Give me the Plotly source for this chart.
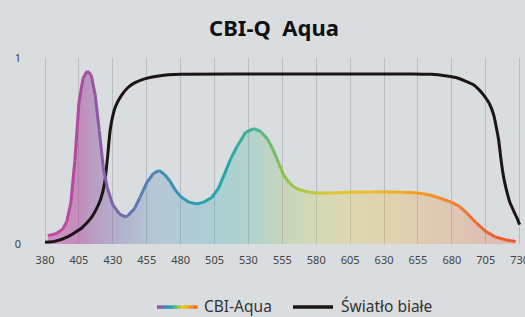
import plotly.graph_objects as go
from plotly.colors import sample_colorscale

# ---------------- data ----------------
aqua_wl = [382, 388, 393, 396, 399, 402, 405, 408, 411, 414, 417, 420, 423, 426, 430,
           435, 440, 446, 450, 455, 460, 464, 468, 472, 476, 480, 486, 492, 497, 503,
           508, 512, 517, 522, 528, 534, 539, 544, 548, 552, 556, 560, 564, 568, 575,
           580, 590, 605, 620, 630, 645, 655, 663, 670, 680, 686, 691, 698, 705, 712,
           720, 727]
aqua_val = [0.045, 0.055, 0.08, 0.12, 0.22, 0.45, 0.76, 0.89, 0.93, 0.91, 0.80, 0.61, 0.41, 0.30, 0.21,
            0.16, 0.145, 0.19, 0.25, 0.33, 0.38, 0.395, 0.375, 0.34, 0.29, 0.255, 0.225, 0.215, 0.225, 0.25,
            0.30, 0.37, 0.46, 0.53, 0.60, 0.62, 0.605, 0.565, 0.51, 0.44, 0.37, 0.33, 0.305, 0.29, 0.278,
            0.274, 0.274, 0.278, 0.28, 0.28, 0.278, 0.274, 0.265, 0.25, 0.224, 0.20, 0.167, 0.113, 0.068, 0.038,
            0.022, 0.014]

white_wl = [380, 387, 397, 407, 414, 418, 421, 424, 426, 428, 430, 432, 436, 441, 446,
            454, 465, 480, 560, 650, 665, 675, 683, 690, 696, 700, 703.5, 708, 711, 713,
            714.5, 716, 717.5, 719, 721, 723, 725.5, 728, 730]
white_val = [0.01, 0.014, 0.04, 0.086, 0.14, 0.19, 0.24, 0.33, 0.46, 0.61, 0.69, 0.74, 0.795, 0.84, 0.866,
             0.889, 0.905, 0.912, 0.914, 0.914, 0.912, 0.905, 0.895, 0.876, 0.856, 0.83, 0.80, 0.75, 0.69, 0.62,
             0.56, 0.47, 0.39, 0.33, 0.27, 0.22, 0.18, 0.14, 0.104]

x_ticks = list(range(380, 731, 25))
y_ticks = [0, 1]

title_text = "CBI-Q  Aqua"
name_aqua = "CBI-Aqua"
name_white = "Światło białe"

# ---------------- style ----------------
WL_MIN, WL_MAX = 380, 730
spectrum = [
    (380, "#c8479f"), (405, "#b04a9e"), (420, "#8c5aa4"), (440, "#6a6fae"),
    (462, "#4a85b2"), (490, "#2a9cb4"), (515, "#22aaa8"), (535, "#45b38c"),
    (555, "#8cc050"), (580, "#c4c93a"), (605, "#ecc628"), (640, "#f4ac22"),
    (670, "#f28e28"), (700, "#ee6a2e"), (730, "#ec4f30"),
]
line_scale = [[(w - WL_MIN) / (WL_MAX - WL_MIN), c] for w, c in spectrum]


def hex_rgba(h, a):
    h = h.lstrip("#")
    return "rgba(%d,%d,%d,%.2f)" % (int(h[0:2], 16), int(h[2:4], 16), int(h[4:6], 16), a)


fill_alpha = {380: 0.5, 405: 0.55, 420: 0.45, 440: 0.35}
fill_scale = [[(w - WL_MIN) / (WL_MAX - WL_MIN), hex_rgba(c, fill_alpha.get(w, 0.25))]
              for w, c in spectrum]


def color_at(w):
    t = min(max((w - WL_MIN) / (WL_MAX - WL_MIN), 0), 1)
    return sample_colorscale(line_scale, [t], colortype="rgb")[0]


FONT = "Noto Sans"
BG = "#d9dde0"
fig = go.Figure()

# gradient fill under CBI-Aqua
fig.add_trace(go.Scatter(
    x=aqua_wl, y=aqua_val, mode="lines", line=dict(width=0),
    fill="tozeroy",
    fillgradient=dict(type="horizontal", colorscale=fill_scale, start=WL_MIN, stop=WL_MAX),
    hoverinfo="skip", showlegend=False,
))

# white light curve
fig.add_trace(go.Scatter(
    x=white_wl, y=white_val, mode="lines",
    line=dict(color="#1c1516", width=3, shape="spline", smoothing=0.5),
    name=name_white, showlegend=False,
))

# CBI-Aqua line as gradient segments
for i in range(len(aqua_wl) - 1):
    xm = (aqua_wl[i] + aqua_wl[i + 1]) / 2
    fig.add_trace(go.Scatter(
        x=aqua_wl[i:i + 2], y=aqua_val[i:i + 2], mode="lines",
        line=dict(color=color_at(xm), width=3),
        hoverinfo="skip", showlegend=False,
    ))

# ---------------- layout ----------------
L, R, T, B = 35, 0, 58, 72.7
W, H = 525, 317
pw, ph = W - L - R, H - T - B
PX_PER_NM = 1.356
X_START = 372.6


def px_x(px):
    return (px - L) / pw


def px_y(py):
    return (H - B - py) / ph


shapes = []
annotations = []
# manual legend: gradient sample
n_seg = 12
x0, x1, ly = 157, 197, 307.5
for k in range(n_seg):
    a = x0 + (x1 - x0) * k / n_seg
    b = x0 + (x1 - x0) * (k + 1) / n_seg
    c = color_at(WL_MIN + 20 + (k + 0.5) / n_seg * (WL_MAX - WL_MIN - 40))
    shapes.append(dict(type="line", xref="paper", yref="paper",
                       x0=px_x(a), x1=px_x(b + 0.6), y0=px_y(ly), y1=px_y(ly),
                       line=dict(color=c, width=3.5)))
shapes.append(dict(type="line", xref="paper", yref="paper",
                   x0=px_x(293), x1=px_x(333), y0=px_y(ly), y1=px_y(ly),
                   line=dict(color="#1c1516", width=3.5)))
annotations.append(dict(xref="paper", yref="paper", x=px_x(203), y=px_y(306.5),
                        xanchor="left", yanchor="middle", showarrow=False, borderpad=0,
                        text=name_aqua, font=dict(family=FONT, size=15.5, color="#333333")))
annotations.append(dict(xref="paper", yref="paper", x=px_x(340), y=px_y(306.5),
                        xanchor="left", yanchor="middle", showarrow=False, borderpad=0,
                        text=name_white, font=dict(family=FONT, size=15.5, color="#333333")))

fig.update_layout(
    width=W, height=H,
    margin=dict(l=L, r=R, t=T, b=B, pad=0, autoexpand=False),
    paper_bgcolor=BG,
    plot_bgcolor="rgba(0,0,0,0)",
    showlegend=False,
    title=dict(text=title_text, x=274 / W, xanchor="center", y=1 - 28 / H, yanchor="middle",
               xref="container", yref="container", automargin=False,
               font=dict(family=FONT, size=22, color="#111111", weight="bold")),
    xaxis=dict(range=[X_START, X_START + pw / PX_PER_NM],
               tickvals=x_ticks, ticktext=[str(v) for v in x_ticks],
               showgrid=True, gridcolor="#b9bdc1", gridwidth=1,
               zeroline=False, showline=False, ticks="", automargin=False,
               ticklabelstandoff=8, ticklabeloverflow="allow",
               tickfont=dict(family=FONT, size=11, color="#444444")),
    yaxis=dict(range=[0, 1], tickvals=y_ticks, ticktext=[str(v) for v in y_ticks],
               showgrid=True, gridcolor="#b3b7bb", gridwidth=1,
               zeroline=False, showline=False, ticks="", automargin=False,
               ticklabelstandoff=13,
               tickfont=dict(family=FONT, size=11, color="#444444")),
    shapes=shapes, annotations=annotations,
)

fig.write_html(
    "out.html",
    config={"displayModeBar": False},
    post_script="document.body.style.margin='0';document.body.style.overflow='hidden';"
                "document.body.style.background='" + BG + "';",
)
